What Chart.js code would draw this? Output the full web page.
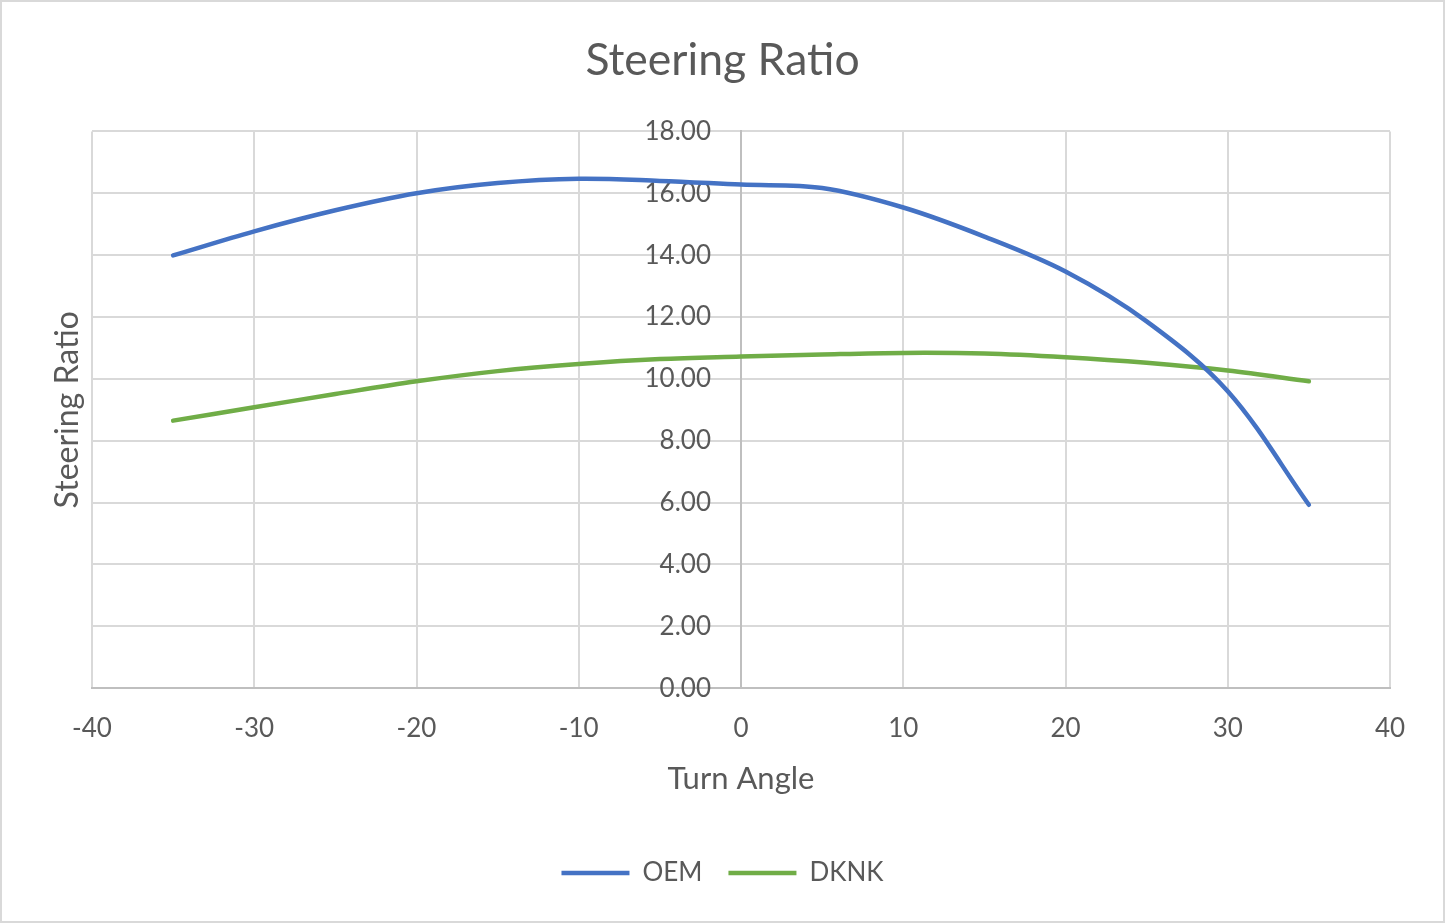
<!DOCTYPE html>
<html>
<head>
<meta charset="utf-8">
<script src="https://cdn.jsdelivr.net/npm/chart.js@4.4.1/dist/chart.umd.min.js"></script>
<style>
  html, body { margin: 0; padding: 0; background: #fff; }
  #wrap { width: 1445px; height: 923px; position: relative; }
</style>
</head>
<body>
<div id="wrap"><canvas id="steeringChart"></canvas></div>
<script>
const turnAngles = [-35, -30, -25, -20, -15, -10, -5, 0, 5, 10, 15, 20, 25, 30, 35];
const oemRatio = [13.99, 14.77, 15.45, 16.0, 16.33, 16.47, 16.4, 16.28, 16.17, 15.54, 14.6, 13.47, 11.86, 9.6, 5.93];
const dknkRatio = [8.65, 9.08, 9.51, 9.92, 10.25, 10.48, 10.64, 10.72, 10.79, 10.84, 10.82, 10.7, 10.52, 10.27, 9.92];
const seriesNames = ['OEM', 'DKNK'];
const xTicks = [-40, -30, -20, -10, 0, 10, 20, 30, 40];
const yTicks = [0, 2, 4, 6, 8, 10, 12, 14, 16, 18];

const colors = {
    blue: '#4472C4',
    green: '#70AD47',
    text: '#595959',
    grid: '#d9d9d9',
    axis: '#bfbfbf'
};
const fontFamily = "Lato, 'Open Sans', sans-serif";

function toPoints(values) {
    return turnAngles.map((a, i) => ({ x: a, y: values[i] }));
}

// white page with a thin grey frame
const framePlugin = {
    id: 'frame',
    beforeDraw(chart) {
        const ctx = chart.ctx;
        ctx.save();
        ctx.fillStyle = '#fff';
        ctx.fillRect(0, 0, chart.width, chart.height);
        ctx.strokeStyle = colors.grid;
        ctx.lineWidth = 2;
        ctx.strokeRect(1, 1, chart.width - 2, chart.height - 2);
        ctx.restore();
    }
};

const ctx = document.getElementById('steeringChart').getContext('2d');
new Chart(ctx, {
    type: 'scatter',
    data: {
        datasets: [{
            label: seriesNames[0],
            data: toPoints(oemRatio),
            showLine: true,
            borderColor: colors.blue,
            backgroundColor: colors.blue,
            borderWidth: 4.5,
            borderCapStyle: 'round',
            pointRadius: 0,
            tension: 0.35
        }, {
            label: seriesNames[1],
            data: toPoints(dknkRatio),
            showLine: true,
            borderColor: colors.green,
            backgroundColor: colors.green,
            borderWidth: 4.5,
            borderCapStyle: 'round',
            pointRadius: 0,
            tension: 0.35
        }]
    },
    options: {
        responsive: true,
        maintainAspectRatio: false,
        animation: false,
        layout: { padding: { left: 55, right: 55, top: 0, bottom: 27 } },
        plugins: {
            title: {
                display: true,
                text: 'Steering Ratio',
                color: colors.text,
                font: { family: fontFamily, size: 44.5, weight: 'normal' },
                padding: { top: 34, bottom: 44 }
            },
            legend: {
                position: 'bottom',
                labels: {
                    color: colors.text,
                    font: { family: fontFamily, size: 26 },
                    usePointStyle: true,
                    pointStyle: 'line',
                    pointStyleWidth: 68,
                    boxWidth: 68,
                    boxHeight: 4,
                    padding: 26
                }
            },
            tooltip: { enabled: false }
        },
        scales: {
            x: {
                type: 'linear',
                min: xTicks[0],
                max: xTicks[xTicks.length - 1],
                afterBuildTicks: axis => { axis.ticks = xTicks.map(v => ({ value: v })); },
                grid: { color: colors.grid, lineWidth: 2, drawTicks: false },
                border: { color: colors.axis, width: 2 },
                ticks: {
                    color: colors.text,
                    font: { family: fontFamily, size: 26 },
                    padding: 25
                },
                title: {
                    display: true,
                    text: 'Turn Angle',
                    color: colors.text,
                    font: { family: fontFamily, size: 31, lineHeight: 0.6 },
                    padding: { top: 0, bottom: 46 }
                }
            },
            // value axis: grid and the vertical line through x = 0
            y: {
                type: 'linear',
                position: { x: 0 },
                min: yTicks[0],
                max: yTicks[yTicks.length - 1],
                afterBuildTicks: axis => { axis.ticks = yTicks.map(v => ({ value: v })); },
                grid: { color: colors.grid, lineWidth: 2, drawTicks: false },
                border: { color: colors.axis, width: 2 },
                ticks: { display: false }
            },
            // tick labels, set a little to the left of x = 0
            yLabels: {
                type: 'linear',
                axis: 'y',
                position: { x: -1.85 },
                min: yTicks[0],
                max: yTicks[yTicks.length - 1],
                afterBuildTicks: axis => { axis.ticks = yTicks.map(v => ({ value: v })); },
                grid: { display: false, drawTicks: false },
                border: { display: false },
                ticks: {
                    color: colors.text,
                    font: { family: fontFamily, size: 26 },
                    callback: v => v.toFixed(2)
                }
            },
            // left strip holding the axis title
            yTitle: {
                type: 'linear',
                axis: 'y',
                position: 'left',
                min: yTicks[0],
                max: yTicks[yTicks.length - 1],
                grid: { display: false, drawTicks: false },
                border: { display: false },
                ticks: { display: false },
                title: {
                    display: true,
                    text: 'Steering Ratio',
                    color: colors.text,
                    font: { family: fontFamily, size: 32, lineHeight: 0.8 },
                    padding: { top: 0, bottom: 11.4 }
                }
            }
        }
    },
    plugins: [framePlugin]
});
</script>
</body>
</html>
